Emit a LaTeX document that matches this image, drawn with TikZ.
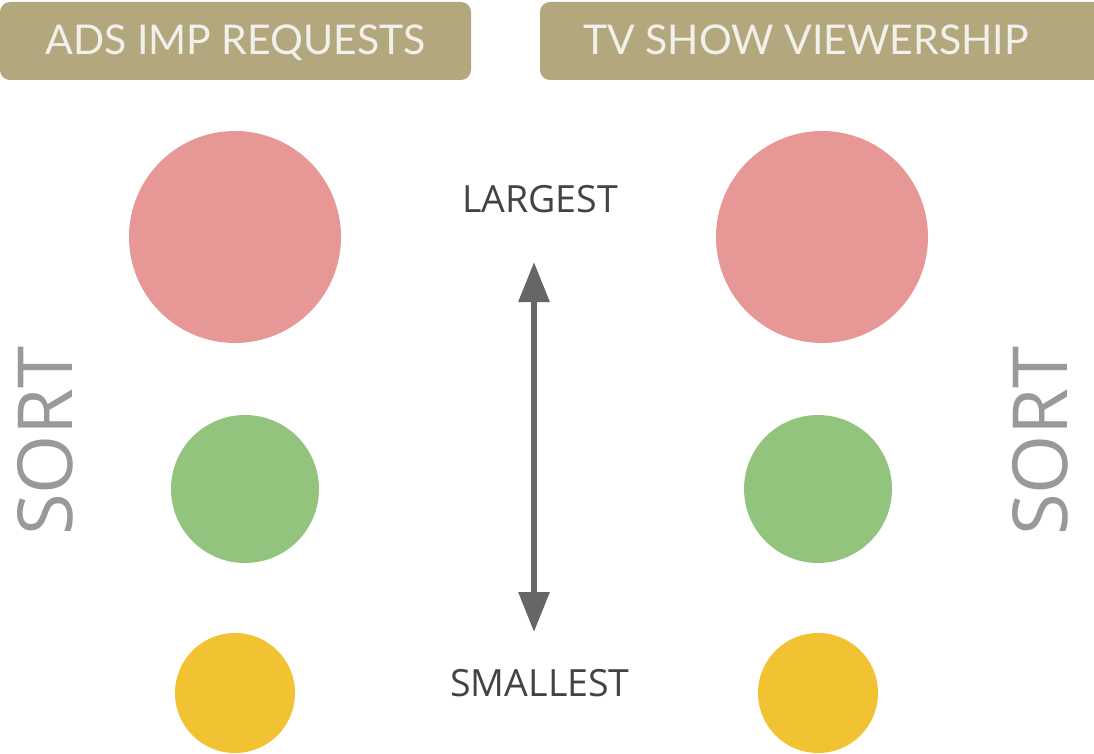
\documentclass[tikz,border=0pt]{standalone}
\usepackage{fontspec}
\setmainfont{Lato}
\newfontfamily\labelfont{Open Sans}
\usetikzlibrary{arrows.meta}
\definecolor{headbg}{HTML}{B3A77D}
\definecolor{headfg}{HTML}{F2F0EA}
\definecolor{dotred}{HTML}{E89797}
\definecolor{dotgreen}{HTML}{93C47D}
\definecolor{dotyellow}{HTML}{F1C232}
\definecolor{arrowgray}{HTML}{666666}
\definecolor{labelgray}{HTML}{434343}
\definecolor{sortgray}{HTML}{999999}
\begin{document}
\begin{tikzpicture}[x=1pt,y=-1pt,
  header/.style={fill=headbg,rounded corners=10pt,draw=none},
  headtext/.style={text=headfg,font=\fontsize{41}{43}\selectfont,inner sep=0pt,anchor=base},
  dot/.style={circle,inner sep=0pt,draw=none},
  sizelabel/.style={text=labelgray,font=\labelfont\fontsize{37.5}{40}\selectfont,inner sep=0pt,anchor=base},
  sortlabel/.style={text=sortgray,font=\labelfont\fontsize{76}{78}\selectfont,inner sep=0pt,rotate=90}]
\useasboundingbox (0,0) rectangle (1094,754);
% column headers
\fill[header] (0,2) rectangle (471,80);
\fill[header] (540,2) rectangle (1110,80);
\node[headtext] (hl) at (235.5,55) {ADS IMP REQUESTS};
\node[headtext] (hr) at (806,55) {TV SHOW VIEWERSHIP};
% left column of dots
\node[dot,fill=dotred,minimum size=212pt] (l1) at (235,237) {};
\node[dot,fill=dotgreen,minimum size=148pt] (l2) at (245,489) {};
\node[dot,fill=dotyellow,minimum size=120pt] (l3) at (235,693) {};
% right column of dots
\node[dot,fill=dotred,minimum size=212pt] (r1) at (822,237) {};
\node[dot,fill=dotgreen,minimum size=148pt] (r2) at (818,489) {};
\node[dot,fill=dotyellow,minimum size=120pt] (r3) at (818,693) {};
% size scale
\node[sizelabel] (big) at (540,212) {LARGEST};
\node[sizelabel] (small) at (540,696) {SMALLEST};
\coordinate (top) at (534,262);
\coordinate (bot) at (534,632);
\draw[arrowgray,line width=6pt,{Triangle[width=30pt,length=40pt]}-{Triangle[width=30pt,length=40pt]}] (top) -- (bot);
% side captions
\node[sortlabel] (sl) at (45,441) {SORT};
\node[sortlabel] (sr) at (1040,441) {SORT};
\end{tikzpicture}
\end{document}
